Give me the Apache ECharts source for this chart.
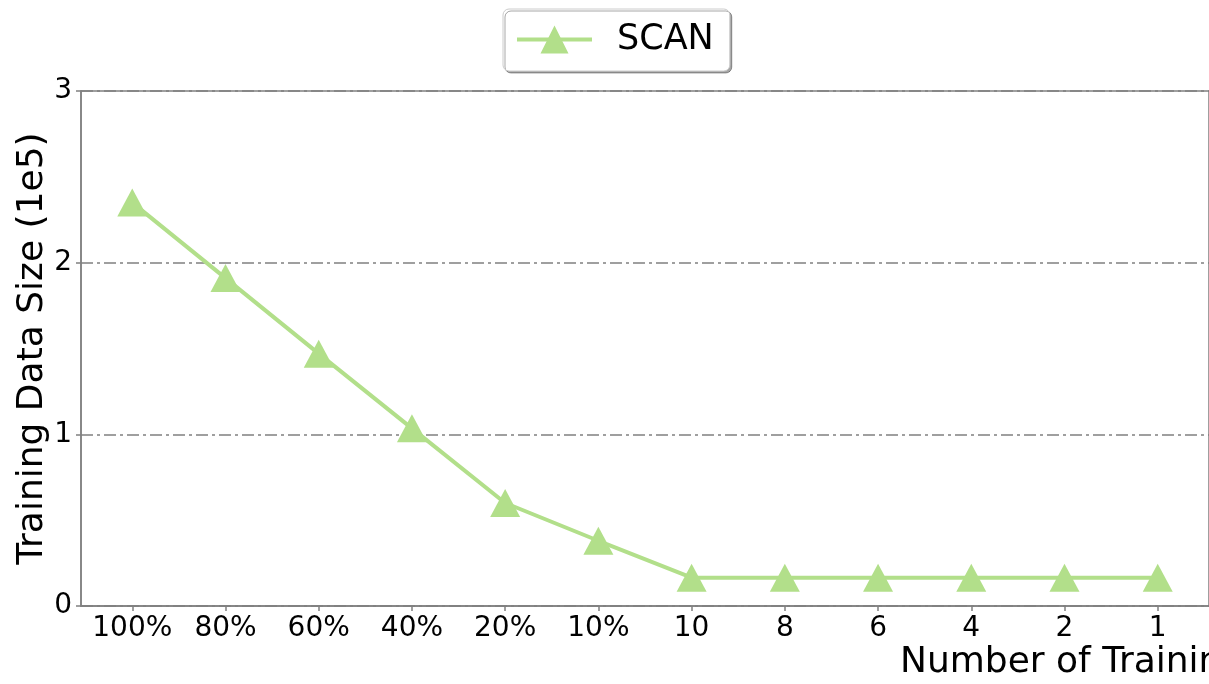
<!DOCTYPE html>
<html>
<head>
<meta charset="utf-8">
<script src="https://cdn.jsdelivr.net/npm/echarts@6/dist/echarts.min.js"></script>
<style>
html,body{margin:0;padding:0;background:#fff;}
#chart{width:1209px;height:684px;}
</style>
</head>
<body>
<div id="chart"></div>
<script>
const categories = ['100%', '80%', '60%', '40%', '20%', '10%', '10', '8', '6', '4', '2', '1'];
const scanValues = [2.35, 1.91, 1.47, 1.035, 0.60, 0.38, 0.165, 0.165, 0.165, 0.165, 0.165, 0.165];
const yTicks = [0, 1, 2, 3];
const seriesName = 'SCAN';
const xAxisTitle = 'Number of Training Samples';
const yAxisTitle = 'Training Data Size (1e5)';

const FONT = 'DejaVu Sans';
const idx = categories.map((c, i) => i);
const chart = echarts.init(document.getElementById('chart'), null, {renderer: 'canvas'});
chart.setOption({
  animation: false,
  backgroundColor: '#ffffff',
  textStyle: {fontFamily: FONT},
  grid: {
    left: 81, top: 91, bottom: 78, right: -3,
    show: true, borderColor: '#808080', borderWidth: 1.5, backgroundColor: 'transparent'
  },
  legend: {
    data: [seriesName],
    left: 503, top: 9,
    itemWidth: 75, itemHeight: 35,
    padding: [13, 16, 14, 12],
    backgroundColor: '#ffffff',
    borderColor: '#cccccc', borderWidth: 1, borderRadius: 6,
    shadowColor: 'rgba(0,0,0,0.35)', shadowBlur: 0, shadowOffsetX: 2, shadowOffsetY: 2,
    lineStyle: {width: 4},
    textStyle: {fontFamily: FONT, fontSize: 35, color: '#000', padding: [0, 0, 0, 20]}
  },
  xAxis: {
    type: 'value', min: -0.55, max: 11.55,
    splitLine: {show: false},
    axisLine: {show: true, onZero: false, lineStyle: {color: '#808080', width: 1.5}},
    axisTick: {show: true, customValues: idx, length: 5, lineStyle: {color: '#808080', width: 1.5}},
    axisLabel: {
      customValues: idx, margin: 9,
      fontFamily: FONT, fontSize: 28, color: '#000',
      formatter: v => categories[Math.round(v)]
    }
  },
  yAxis: {
    type: 'value', min: 0, max: 3, interval: 1,
    name: yAxisTitle, nameLocation: 'middle', nameGap: 30, nameMoveOverlap: false,
    nameTextStyle: {fontFamily: FONT, fontSize: 36, color: '#000'},
    axisLine: {show: true, onZero: false, lineStyle: {color: '#808080', width: 1.5}},
    axisTick: {show: true, length: 5, lineStyle: {color: '#808080', width: 1.5}},
    axisLabel: {
      margin: 9, fontFamily: FONT, fontSize: 28, color: '#000',
      formatter: v => yTicks.includes(v) ? String(v) : ''
    },
    splitLine: {show: true, lineStyle: {color: '#808080', width: 1.5, type: [12, 4, 3, 4]}}
  },
  graphic: [{
    type: 'text', left: 900, top: 645,
    style: {text: xAxisTitle, font: '36px "DejaVu Sans"', fill: '#000'}
  }],
  series: [{
    name: seriesName, type: 'line',
    data: scanValues.map((v, i) => [idx[i], v]),
    symbol: 'triangle', symbolSize: [30, 28],
    itemStyle: {color: '#b2df8a'},
    lineStyle: {color: '#b2df8a', width: 4},
    clip: false, z: 5
  }]
});
</script>
</body>
</html>
